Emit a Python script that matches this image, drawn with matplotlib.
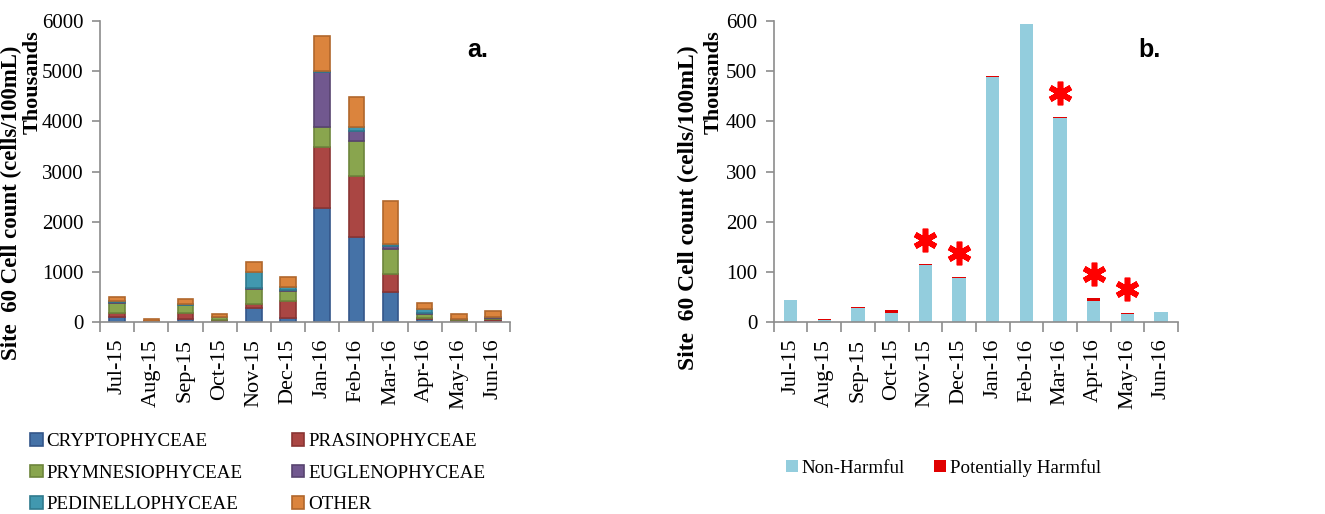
import matplotlib.pyplot as plt
import numpy as np

# months shared by both panels
months = ["Jul-15", "Aug-15", "Sep-15", "Oct-15", "Nov-15", "Dec-15",
          "Jan-16", "Feb-16", "Mar-16", "Apr-16", "May-16", "Jun-16"]

# panel a: class composition (thousands of cells/100mL)
cryptophyceae = [100, 10, 70, 20, 280, 90, 2280, 1700, 600, 60, 20, 30]
prasinophyceae = [70, 15, 110, 30, 80, 330, 1200, 1210, 350, 30, 30, 40]
prymnesiophyceae = [210, 5, 150, 50, 290, 200, 400, 700, 510, 70, 10, 20]
euglenophyceae = [10, 0, 10, 5, 20, 20, 1100, 200, 60, 20, 5, 5]
pedinellophyceae = [30, 0, 20, 5, 330, 60, 20, 80, 40, 70, 5, 5]
other = [70, 40, 90, 40, 200, 200, 700, 600, 860, 120, 80, 120]

# panel b: harmful vs non-harmful (thousands)
non_harmful = [43, 4, 28, 18, 113, 88, 489, 594, 406, 42, 16, 20]
potentially_harmful = [1, 2, 1, 6, 2, 1.5, 1, 1, 2, 5, 2, 0]
flagged = ["Nov-15", "Dec-15", "Mar-16", "Apr-16", "May-16"]

plt.rcParams['font.family'] = ['Liberation Serif', 'DejaVu Serif']

fig = plt.figure(figsize=(13.25, 5.14), dpi=100)
ax1 = fig.add_axes([0.0755, 0.3735, 0.3095, 0.5855])
ax2 = fig.add_axes([0.584, 0.3735, 0.305, 0.5855])

x = np.arange(len(months))
grey = "#8c8c8c"

series_a = [
    ("CRYPTOPHYCEAE", cryptophyceae, "#4572A7", "#34568a"),
    ("PRASINOPHYCEAE", prasinophyceae, "#AA4643", "#8a3533"),
    ("PRYMNESIOPHYCEAE", prymnesiophyceae, "#89A54E", "#6d853c"),
    ("EUGLENOPHYCEAE", euglenophyceae, "#71588F", "#584470"),
    ("PEDINELLOPHYCEAE", pedinellophyceae, "#4198AF", "#2f7a8e"),
    ("OTHER", other, "#DB843D", "#b0672c"),
]
bottom = np.zeros(len(months))
for name, vals, col, edge in series_a:
    ax1.bar(x, vals, 0.45, bottom=bottom, color=col, edgecolor=edge,
            linewidth=1.2, label=name)
    bottom += np.array(vals)

ax2.bar(x, non_harmful, 0.4, color="#93CDDD", label="Non-Harmful")
ax2.bar(x, potentially_harmful, 0.4, bottom=non_harmful, color="#E00000",
        label="Potentially Harmful")
totals_b = np.array(non_harmful) + np.array(potentially_harmful)
idx = [months.index(m) for m in flagged]
ax2.plot(x[idx], totals_b[idx] + 48, linestyle="none", marker=(6, 2, 0),
         markersize=17, markeredgewidth=4, color="#FF0000")

for ax, top, step in [(ax1, 6000, 1000), (ax2, 600, 100)]:
    ax.set_xlim(-0.5, len(months) - 0.5)
    ax.set_ylim(0, top)
    ax.set_yticks(np.arange(0, top + 1, step))
    ax.set_xticks(x)
    ax.set_xticklabels(months, rotation=90, fontsize=16)
    ax.set_xticks(np.arange(-0.5, len(months), 1), minor=True)
    ax.tick_params(axis="x", which="major", length=0, pad=12)
    ax.tick_params(axis="x", which="minor", length=7, color=grey, width=1.2)
    ax.tick_params(axis="y", length=6, color=grey, width=1.2, labelsize=15,
                   pad=6)
    for s in ["top", "right"]:
        ax.spines[s].set_visible(False)
    for s in ["left", "bottom"]:
        ax.spines[s].set_color(grey)
        ax.spines[s].set_linewidth(1.2)

label = "Site  60 Cell count (cells/100mL)"
fig.text(11 / 1325, 1 - 203 / 514, label, rotation=90, ha="center",
         va="center", fontsize=16.5, fontweight="bold")
fig.text(33 / 1325, 1 - 30 / 514, "Thousands", rotation=90, ha="center",
         va="top", fontsize=16, fontweight="bold")
fig.text(688 / 1325, 1 - 208 / 514, label, rotation=90, ha="center",
         va="center", fontsize=17, fontweight="bold")
fig.text(714 / 1325, 1 - 30 / 514, "Thousands", rotation=90, ha="center",
         va="top", fontsize=16, fontweight="bold")

ax1.text(0.92, 0.88, "a.", transform=ax1.transAxes, fontsize=18,
         fontweight="bold", ha="center", family=["Liberation Sans"])
ax2.text(0.93, 0.88, "b.", transform=ax2.transAxes, fontsize=18,
         fontweight="bold", ha="center", family=["Liberation Sans"])

# legend order row-wise as in the original
h, l = ax1.get_legend_handles_labels()
order = [0, 2, 4, 1, 3, 5]
fig.legend([h[i] for i in order], [l[i] for i in order], loc="upper left",
           bbox_to_anchor=(0.017, 0.172), ncol=2, frameon=False,
           fontsize=13.7, handlelength=0.65, handleheight=0.65,
           handletextpad=0.2, columnspacing=2.6, labelspacing=0.75,
           borderaxespad=0)
fig.legend(*ax2.get_legend_handles_labels(), loc="center",
           bbox_to_anchor=(0.712, 0.09), ncol=2, frameon=False,
           fontsize=13.7, handlelength=0.65, handleheight=0.65,
           handletextpad=0.2, columnspacing=1.5, borderaxespad=0)

fig.savefig("out.png", dpi=100)
